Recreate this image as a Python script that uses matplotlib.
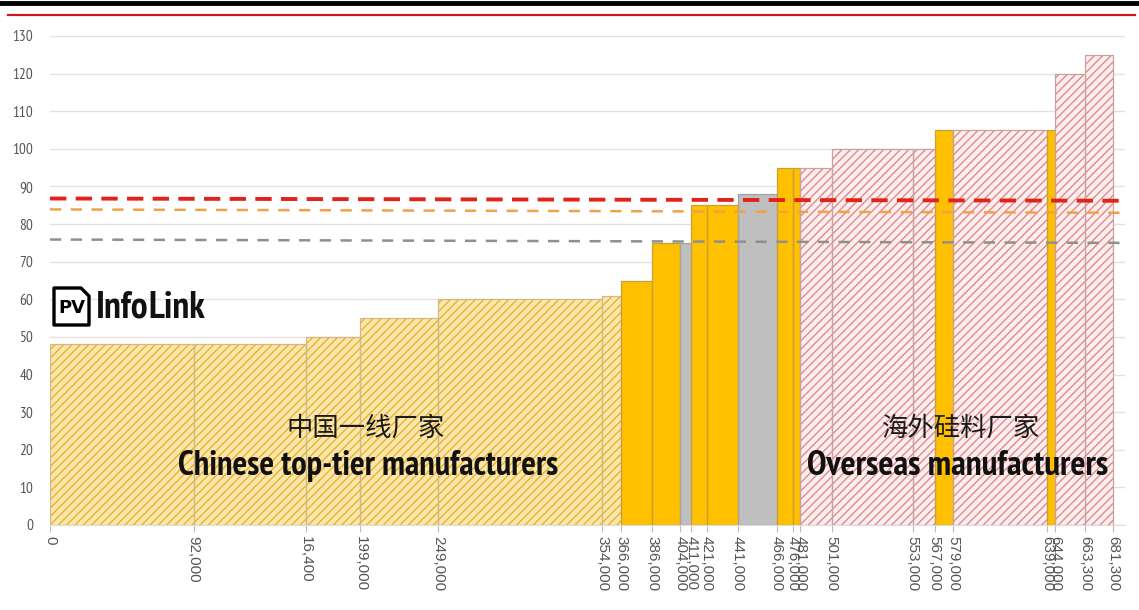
import matplotlib
matplotlib.use("Agg")
import matplotlib.pyplot as plt
from matplotlib.lines import Line2D
from matplotlib.patches import Polygon
from matplotlib import font_manager

# Cumulative capacity boundaries (t) and cash cost of each producer block
edges = [0, 92000, 164000, 199000, 249000, 354000, 366000, 386000, 404000,
         411000, 421000, 441000, 466000, 476000, 481000, 501000, 553000,
         567000, 579000, 639000, 644000, 663300, 681300]
costs = [48, 48, 50, 55, 60, 61, 65, 75, 75, 85, 85, 88, 95, 95, 95, 100,
         100, 105, 105, 105, 120, 125]
groups = ["cn", "cn", "cn", "cn", "cn", "cn", "y", "y", "g", "y", "y", "g",
          "y", "y", "os", "os", "os", "y", "os", "y", "os", "os"]
tick_labels = ["0", "92,000", "16,400", "199,000", "249,000", "354,000",
               "366,000", "386,000", "404,000", "411,000", "421,000",
               "441,000", "466,000", "476,000", "481,000", "501,000",
               "553,000", "567,000", "579,000", "639,000", "644,000",
               "663,300", "681,300"]
y_ticks = list(range(0, 131, 10))

# Price reference levels (start, end)
price_red = [86.8, 86.2]
price_orange = [83.9, 83.0]
price_gray = [75.9, 75.0]


def _w(v):
    if isinstance(v, (int, float)):
        return int(v)
    return {"bold": 700, "normal": 400, "regular": 400}.get(str(v), 400)


def narrow_family():
    weights = {}
    for f in font_manager.fontManager.ttflist:
        weights.setdefault(f.name, set()).add(_w(f.weight))
    preferred = ["Liberation Sans Narrow", "Arimo Narrow", "Archivo Narrow",
                 "PT Sans Narrow", "Roboto Condensed", "Pragati Narrow",
                 "Encode Sans Condensed", "Open Sans Condensed",
                 "Fira Sans Condensed", "IBM Plex Sans Condensed",
                 "Asap Condensed", "Barlow Semi Condensed"]
    for name in preferred:
        if name in weights and max(weights[name]) >= 700 \
                and min(weights[name]) <= 400:
            return name
    for name in sorted(weights):
        ws = weights[name]
        if ("Narrow" in name or "Condensed" in name) and "Mono" not in name \
                and max(ws) >= 700 and min(ws) <= 400:
            return name
    return None


narrow = narrow_family()
base = narrow if narrow else "Liberation Sans"
plt.rcParams["font.family"] = [base, "DejaVu Sans"]
plt.rcParams["hatch.linewidth"] = 1.0

W, H = 1139, 610
fig = plt.figure(figsize=(W / 100, H / 100), dpi=100)
ax = fig.add_axes([50 / W, 1 - 525 / H, (1125 - 50) / W, (525 - 36) / H])

styles = {
    "cn": dict(face="#FBE6AE", hatch_col="#E8B42A", edge="#CDBA88"),
    "os": dict(face="#FCEEEE", hatch_col="#E08A8A", edge="#C9A3A3"),
    "y": dict(face="#FFC000", hatch_col=None, edge="#C8A03A"),
    "g": dict(face="#BFBFBF", hatch_col=None, edge="#A3A3A3"),
}

lefts = edges[:-1]
widths = [b - a for a, b in zip(edges[:-1], edges[1:])]
for x, w, h, g in zip(lefts, widths, costs, groups):
    st = styles[g]
    if st["hatch_col"]:
        ax.bar(x, h, width=w, align="edge", color=st["face"],
               edgecolor=st["hatch_col"], hatch="////", linewidth=0, zorder=2)
    else:
        ax.bar(x, h, width=w, align="edge", color=st["face"], linewidth=0,
               zorder=2)
    ax.bar(x, h, width=w, align="edge", fill=False, edgecolor=st["edge"],
           linewidth=0.9, zorder=3)

xmax = 689000
ax.plot([0, xmax], price_red, color="#E0231B", lw=2.8, dashes=(4.2, 2.4),
        zorder=5, solid_capstyle="butt")
ax.plot([0, xmax], price_orange, color="#EFA24A", lw=1.8, dashes=(4.5, 3.8),
        zorder=5)
ax.plot([0, xmax], price_gray, color="#8F8F8F", lw=1.8, dashes=(4.5, 3.8),
        zorder=5)

ax.set_xlim(0, xmax)
ax.set_ylim(0, 130)
ax.set_yticks(y_ticks)
ax.set_yticklabels([str(v) for v in y_ticks],
                   fontsize=11 if narrow else 9.5, color="#555555")
ax.set_xticks(edges)
ax.set_xticklabels(tick_labels, rotation=-90, fontsize=11, color="#555555",
                   family=["Liberation Sans", "DejaVu Sans"],
                   fontstretch="normal")
ax.tick_params(axis="y", length=0, pad=12)
ax.tick_params(axis="x", length=5, color="#BBBBBB", pad=3)
ax.yaxis.grid(True, color="#E2E2E2", lw=1.0)
ax.set_axisbelow(True)
for s in ["top", "right", "left"]:
    ax.spines[s].set_visible(False)
ax.spines["bottom"].set_color("#DDDDDD")

# Group captions
cjk = ["Noto Sans CJK SC", "DejaVu Sans"]
en_size = 21 if narrow else 18.5
ax.text(202000, 25.8, "中国一线厂家", ha="center", va="center", fontsize=19,
        family=cjk, color="#1A1A1A", zorder=6)
cap1 = ax.text(204000, 15.6, "Chinese top-tier manufacturers", ha="center",
               va="center", fontsize=en_size, fontweight="bold",
               color="#111111", zorder=6)
ax.text(584000, 25.8, "海外硅料厂家", ha="center", va="center", fontsize=19,
        family=cjk, color="#1A1A1A", zorder=6)
cap2 = ax.text(582000, 15.6, "Overseas manufacturers", ha="center",
               va="center", fontsize=en_size, fontweight="bold",
               color="#111111", zorder=6)

# Header rules
fig.add_artist(Line2D([0, 1], [1 - 2.5 / H] * 2, color="black", lw=3.5))
fig.add_artist(Line2D([8 / W, 1135 / W], [1 - 15 / H] * 2, color="#D0161E",
                      lw=1.6))


# Logo
def px(x, y):
    return (x / W, 1 - y / H)


doc = Polygon([px(54, 288), px(81, 288), px(89, 296), px(89, 325),
               px(54, 325)], closed=True, transform=fig.transFigure,
              facecolor="white", edgecolor="black", lw=2.4, zorder=10,
              joinstyle="round")
fig.add_artist(doc)
fig.text(*px(71.5, 308), "PV", ha="center", va="center", fontsize=13,
         fontweight="bold", color="black", family=["DejaVu Sans"], zorder=11)
logo_size = 27 if narrow else 22
t1 = fig.text(*px(96, 308), "Info", ha="left", va="center",
              fontsize=logo_size, fontweight="bold", color="#111111",
              zorder=11)
fig.canvas.draw()
bb = t1.get_window_extent()
fig.text(bb.x1 / W, 1 - 308 / H, "Link", ha="left", va="center",
         fontsize=logo_size, fontweight="semibold", color="#111111",
         zorder=11)

# Fit the English captions to their measured spans
fig.canvas.draw()
for t, span in ((cap1, 380), (cap2, 302)):
    wpx = t.get_window_extent().width
    t.set_fontsize(t.get_fontsize() * span / wpx)

fig.savefig("out.png", dpi=100, facecolor="white")
